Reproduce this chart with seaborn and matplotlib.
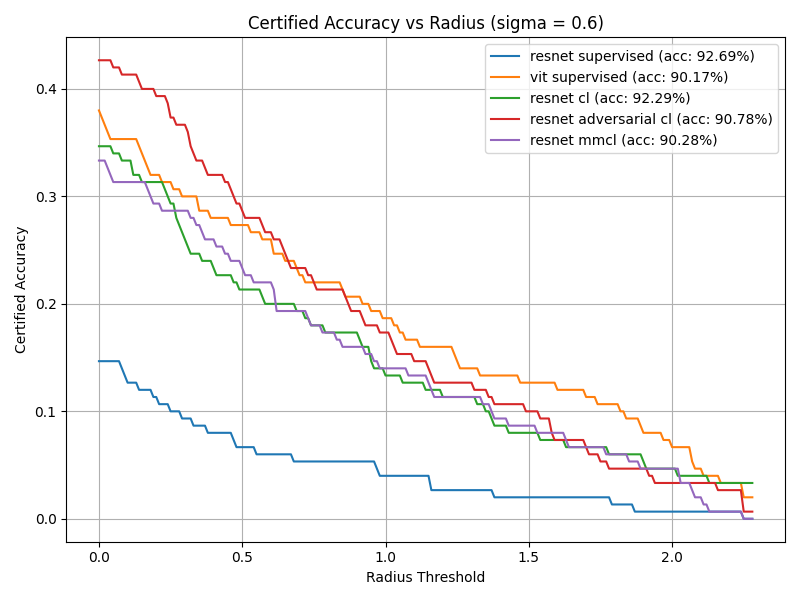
"""Certified accuracy vs radius curves for the sigma = 0.6 runs."""

import numpy as np
import pandas as pd
import matplotlib
matplotlib.use("Agg")
import matplotlib.pyplot as plt
import seaborn as sns

n_samples = 150
radius_grid = np.arange(0, 2.285, 0.01)

labels = [
    "resnet supervised (acc: 92.69%)",
    "vit supervised (acc: 90.17%)",
    "resnet cl (acc: 92.29%)",
    "resnet adversarial cl (acc: 90.78%)",
    "resnet mmcl (acc: 90.28%)",
]

# certified radii of the correctly classified samples
resnet_sup_radii = [
    0.075, 0.085, 0.095, 0.135, 0.18, 0.20, 0.24, 0.285, 0.32, 0.375,
    0.465, 0.475, 0.545, 0.675, 0.96, 0.97, 1.152, 1.155, 1.38, 1.785,
    1.865, 2.245,
]
vit_sup_radii = [
    0.005, 0.015, 0.025, 0.035, 0.135, 0.14, 0.15, 0.16, 0.17, 0.215,
    0.258, 0.283, 0.342, 0.347, 0.385, 0.455, 0.523, 0.56, 0.604, 0.608,
    0.647, 0.687, 0.70, 0.71, 0.845, 0.852, 0.915, 0.95, 0.985, 1.027,
    1.045, 1.065, 1.118, 1.235, 1.245, 1.258, 1.326, 1.465, 1.59, 1.695,
    1.738, 1.81, 1.833, 1.885, 1.895, 1.967, 1.99, 2.06, 2.067, 2.074,
    2.103, 2.16, 2.242, 2.247, 2.35, 2.35, 2.35,
]
resnet_cl_radii = [
    0.04, 0.075, 0.11, 0.115, 0.147, 0.225, 0.232, 0.24, 0.262, 0.268,
    0.275, 0.285, 0.295, 0.305, 0.312, 0.355, 0.39, 0.40, 0.47, 0.48,
    0.565, 0.575, 0.69, 0.715, 0.735, 0.785, 0.905, 0.915, 0.947, 0.95,
    0.953, 0.99, 1.055, 1.135, 1.19, 1.315, 1.345, 1.362, 1.372, 1.428,
    1.53, 1.625, 1.772, 1.897, 1.903, 2.014, 2.125, 2.35, 2.35, 2.35,
    2.35, 2.35,
]
resnet_adv_cl_radii = [
    0.04, 0.075, 0.135, 0.145, 0.193, 0.235, 0.24, 0.245, 0.265, 0.303,
    0.31, 0.318, 0.325, 0.335, 0.368, 0.376, 0.432, 0.455, 0.462, 0.476,
    0.49, 0.50, 0.568, 0.574, 0.606, 0.635, 0.646, 0.655, 0.663, 0.728,
    0.74, 0.75, 0.855, 0.862, 0.87, 0.915, 0.925, 0.972, 1.018, 1.025,
    1.032, 1.094, 1.142, 1.155, 1.165, 1.305, 1.357, 1.372, 1.488, 1.531,
    1.575, 1.578, 1.581, 1.69, 1.70, 1.748, 1.775, 1.915, 1.935, 2.153,
    2.242, 2.245, 2.248, 2.35,
]
resnet_mmcl_radii = [
    0.02, 0.03, 0.04, 0.16, 0.17, 0.18, 0.215, 0.315, 0.338, 0.355,
    0.362, 0.41, 0.432, 0.455, 0.49, 0.505, 0.538, 0.608, 0.612, 0.615,
    0.618, 0.72, 0.735, 0.776, 0.822, 0.84, 0.924, 0.955, 0.97, 1.072,
    1.142, 1.155, 1.165, 1.338, 1.365, 1.375, 1.425, 1.525, 1.625, 1.635,
    1.765, 1.845, 1.89, 2.02, 2.03, 2.06, 2.07, 2.102, 2.125, 2.246,
]

all_radii = [resnet_sup_radii, vit_sup_radii, resnet_cl_radii,
             resnet_adv_cl_radii, resnet_mmcl_radii]


def certified_curve(radii):
    radii = np.asarray(radii)
    return np.array([(radii >= r).sum() for r in radius_grid]) / n_samples


frames = []
for label, radii in zip(labels, all_radii):
    frames.append(pd.DataFrame({
        "radius": radius_grid,
        "acc": certified_curve(radii),
        "model": label,
    }))
df = pd.concat(frames, ignore_index=True)

fig, ax = plt.subplots(figsize=(8, 6), dpi=100)
sns.lineplot(data=df, x="radius", y="acc", hue="model", hue_order=labels,
             palette="tab10", estimator=None, linewidth=1.5, ax=ax)
ax.legend(loc="upper right")
ax.set_title("Certified Accuracy vs Radius (sigma = 0.6)")
ax.set_xlabel("Radius Threshold")
ax.set_ylabel("Certified Accuracy")
ax.grid(True)
fig.tight_layout()
fig.savefig("out.png", dpi=100)
plt.close(fig)
